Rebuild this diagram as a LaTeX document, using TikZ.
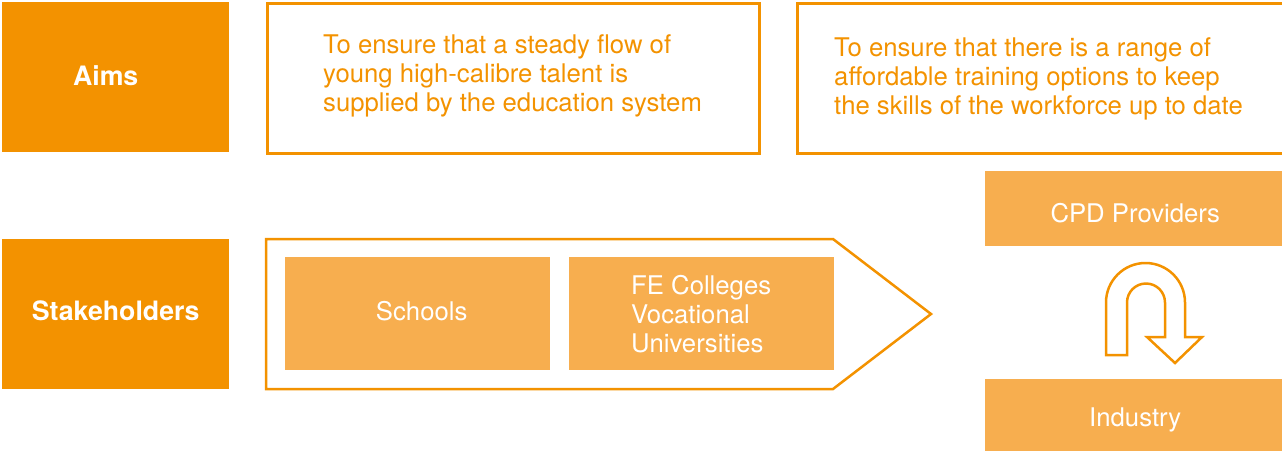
\documentclass[tikz,border=0pt]{standalone}
\usepackage{fontspec}
\setmainfont{TeX Gyre Heros}
\definecolor{darkorange}{HTML}{F39200}
\definecolor{lightorange}{HTML}{F7AE4F}
\begin{document}
\begin{tikzpicture}[
    x=1pt,y=-1pt,
    labelbox/.style={fill=darkorange, inner sep=0pt, anchor=north west,
        minimum width=227pt, minimum height=150pt},
    labeltext/.style={text=white, inner sep=0pt, font=\bfseries\fontsize{26.7}{30}\selectfont},
    aimbox/.style={draw=darkorange, line width=2.5pt, inner sep=0pt, anchor=north west, minimum height=150pt},
    aimtext/.style={text=darkorange, inner sep=0pt, anchor=west, align=left, font=\fontsize{25.7}{29}\selectfont},
    stakebox/.style={fill=lightorange, inner sep=0pt, anchor=north west},
    staketext/.style={text=white, inner sep=0pt, align=left, font=\fontsize{25.7}{29}\selectfont},
    outline/.style={draw=darkorange, line width=2.5pt}
    ]
    \useasboundingbox (0,0) rectangle (1282,451);
    % aims row
    \node [labelbox] (aims) at (2,2) {};
    \node [labeltext] (aimslabel) at ([xshift=-10pt,yshift=2pt]aims.center) {Aims};
    \node [aimbox, minimum width=492pt] (aimA) at (266,2) {};
    \node [aimtext] (aimAtext) at (323,76) {To ensure that a steady flow of\\young high-calibre talent is\\supplied by the education system};
    \node [aimbox, minimum width=500pt] (aimB) at (796,2) {};
    \node [aimtext] (aimBtext) at (834,79) {To ensure that there is a range of\\affordable training options to keep\\the skills of the workforce up to date};
    % stakeholders row
    \node [labelbox] (stake) at (2,239) {};
    \node [labeltext] (stakelabel) at ([yshift=3pt]stake.center) {Stakeholders};
    \draw [outline] (266,239) -- (833,239) -- (931,314) -- (833,389) -- (266,389) -- cycle;
    \node [stakebox, minimum width=265pt, minimum height=113pt] (schools) at (285,257) {};
    \node [staketext] (schoolstext) at ([xshift=4pt,yshift=3pt]schools.center) {Schools};
    \node [stakebox, minimum width=265pt, minimum height=113pt] (fe) at (569,257) {};
    \node [staketext, anchor=west] (fetext) at (631,314) {FE Colleges\\Vocational\\Universities};
    \node [stakebox, minimum width=300pt, minimum height=75pt] (cpd) at (985,171) {};
    \node [staketext] (cpdtext) at ([yshift=-4pt]cpd.center) {CPD Providers};
    \node [stakebox, minimum width=300pt, minimum height=72pt] (industry) at (985,379) {};
    \node [staketext] (industrytext) at ([yshift=-5pt]industry.center) {Industry};
    % u-turn arrow
    \draw [outline, line join=miter] (1106,355) -- (1106,302.5)
        arc [start angle=180, end angle=360, radius=39.5] -- (1185,337) -- (1202,337)
        -- (1175,363) -- (1147,337) -- (1165,337) -- (1165,302.5)
        arc [start angle=360, end angle=180, radius=19] -- (1127,355) -- cycle;
\end{tikzpicture}
\end{document}
